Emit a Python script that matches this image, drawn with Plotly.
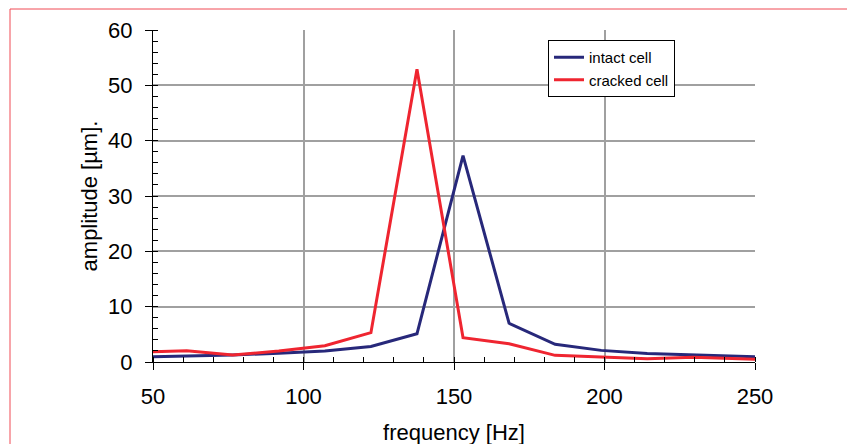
import plotly.graph_objects as go

freq = [50, 61.2, 76.5, 91.8, 107.1, 122.4, 137.7, 153.0, 168.3, 183.6, 198.9, 214.2, 229.5, 244.8, 250]
intact = [0.95, 1.05, 1.25, 1.6, 2.0, 2.8, 5.1, 37.3, 7.0, 3.2, 2.1, 1.55, 1.3, 1.1, 0.95]
cracked = [1.85, 2.05, 1.25, 2.0, 2.95, 5.3, 52.9, 4.4, 3.3, 1.2, 0.9, 0.6, 0.85, 0.55, 0.5]
series_names = ["intact cell", "cracked cell"]

fig = go.Figure()
fig.add_trace(go.Scatter(x=freq, y=intact, mode="lines", name=series_names[0],
                         line=dict(color="#27287a", width=3)))
fig.add_trace(go.Scatter(x=freq, y=cracked, mode="lines", name=series_names[1],
                         line=dict(color="#ef2530", width=3)))

# page body has an 8px margin, so the figure is offset by (8, 8) on screen
L, T, W, H = 145, 22, 602, 332
font_main = "Liberation Sans, Arial, sans-serif"
fig.update_layout(
    width=855, height=444,
    margin=dict(l=L, r=855 - L - W, t=T, b=444 - T - H, autoexpand=False),
    paper_bgcolor="white", plot_bgcolor="white",
    font=dict(family=font_main, color="black", size=22),
    legend=dict(x=(540 - L) / W, y=1 - (32 - T) / H, xanchor="left", yanchor="top",
                bordercolor="black", borderwidth=1, bgcolor="white",
                font=dict(size=15, family=font_main), tracegroupgap=0,
                itemwidth=30),
    xaxis=dict(range=[50, 250], dtick=50, tick0=50, automargin=False,
               showgrid=True, gridcolor="#a0a0a0", gridwidth=1.5,
               showline=True, linecolor="black", linewidth=1,
               ticks="outside", ticklen=7, tickcolor="black",
               tickfont=dict(size=22), ticklabelstandoff=8,
               minor=dict(dtick=10, ticks="inside", ticklen=5, tickcolor="black", showgrid=False),
               zeroline=False,
               title=dict(text="frequency [Hz]", standoff=16, font=dict(size=22))),
    yaxis=dict(range=[0, 60], dtick=10, automargin=False,
               showgrid=True, gridcolor="#a0a0a0", gridwidth=1.5,
               showline=True, linecolor="black", linewidth=1,
               ticks="outside", ticklen=7, tickcolor="black",
               tickfont=dict(size=22), ticklabelstandoff=8,
               minor=dict(dtick=2, ticks="inside", ticklen=5, tickcolor="black", showgrid=False),
               zeroline=False,
               title=dict(text="amplitude [µm].", standoff=4, font=dict(size=22))),
    showlegend=True,
)

fig.add_shape(type="rect", xref="paper", yref="paper",
              x0=(2 - L) / W, x1=(844 - L) / W,
              y0=-0.5, y1=1 + (T - 1) / H,
              line=dict(color="#f04a55", width=1), fillcolor="rgba(0,0,0,0)", layer="below")

fig.write_html("out.html")
